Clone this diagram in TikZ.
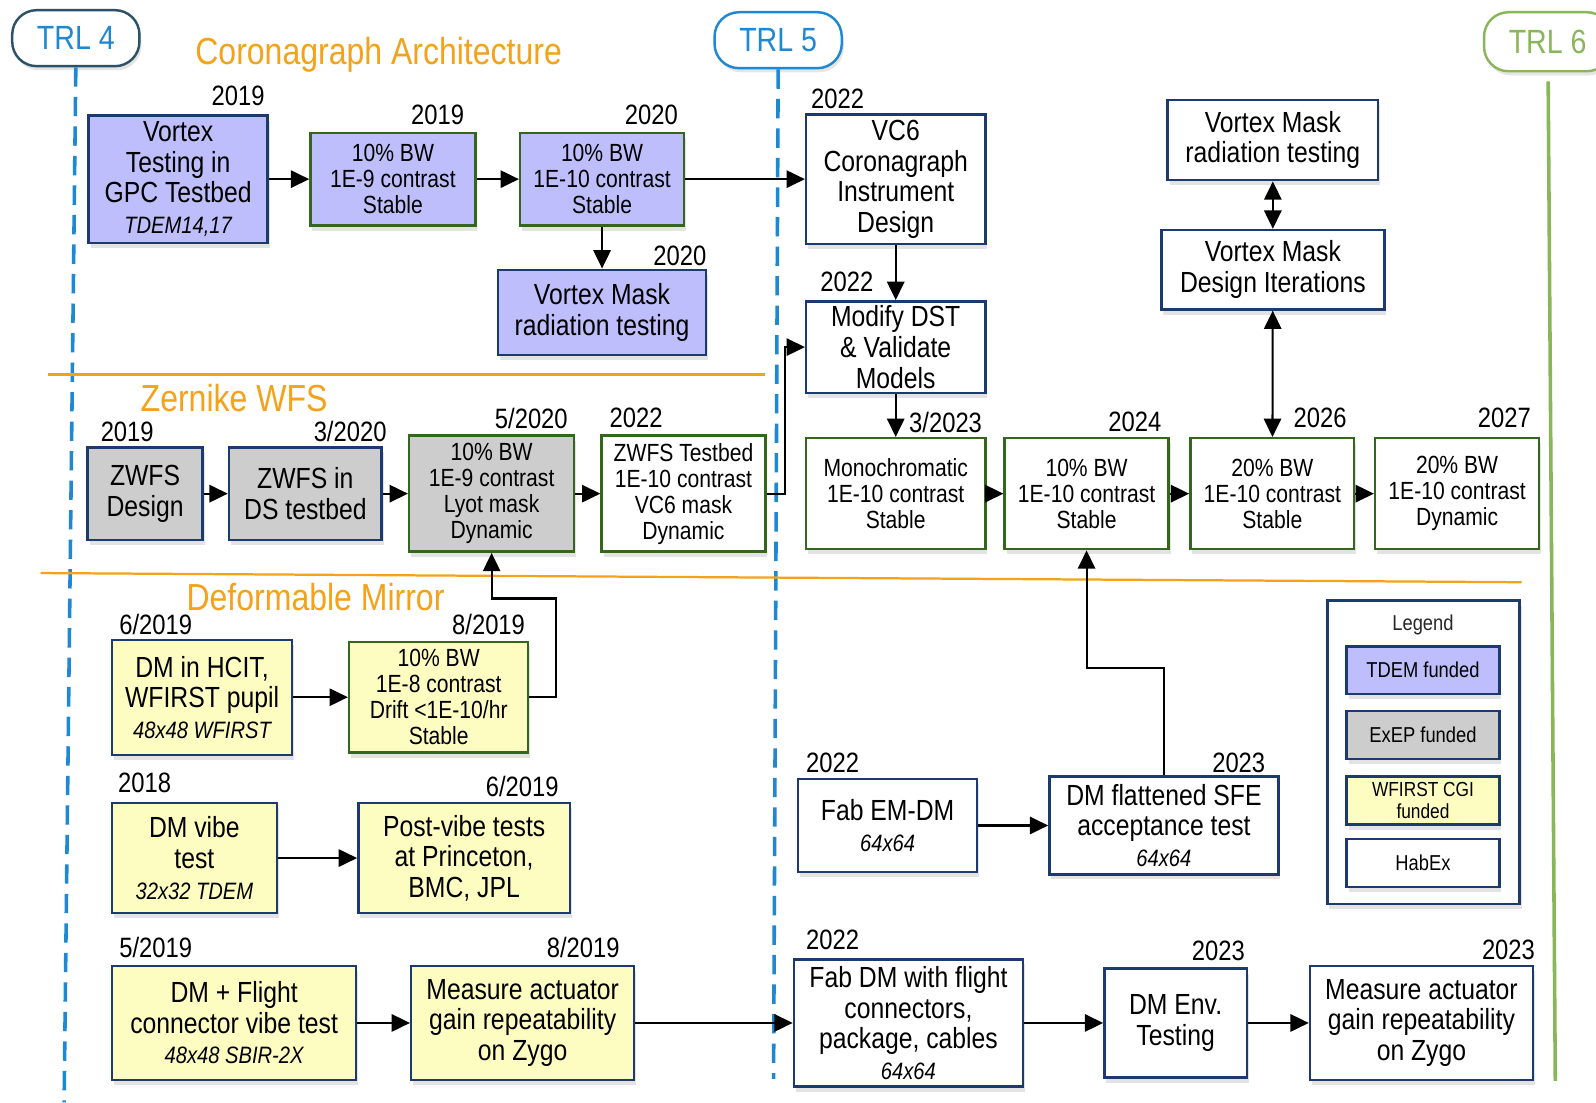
\documentclass[tikz,border=0pt]{standalone}
\usepackage{fontspec}
\setmainfont{Liberation Sans}[FakeStretch=0.85]
\usepackage{tikz}
\usetikzlibrary{arrows.meta,shadows}

\definecolor{lav}{RGB}{190,190,252}
\definecolor{greyfill}{RGB}{205,205,205}
\definecolor{yel}{RGB}{253,253,194}
\definecolor{navy}{RGB}{28,58,112}
\definecolor{dkgreen}{RGB}{52,102,28}
\definecolor{orng}{RGB}{245,162,27}
\definecolor{trlblue}{RGB}{30,136,210}
\definecolor{trlgreen}{RGB}{138,182,90}
\definecolor{trlgrey}{RGB}{45,82,104}

\newcommand{\bigfont}{\fontsize{28.6}{30}\selectfont}
\newcommand{\smlfont}{\fontsize{24.4}{25.5}\selectfont}
\newcommand{\yrfont}{\fontsize{27.5}{28}\selectfont}
\newcommand{\noteit}{\fontsize{23.3}{28}\selectfont\itshape}
\newcommand{\secfont}{\fontsize{37}{38}\selectfont}
\newcommand{\legfont}{\fontsize{21.2}{23}\selectfont}

\tikzset{
  box/.style={draw=navy, line width=2.4pt, align=center, inner sep=2pt, fill=white,
    drop shadow={shadow xshift=2pt, shadow yshift=-5pt, opacity=0.22}},
  gbox/.style={box, draw=dkgreen},
  yr/.style={font=\yrfont},
  sect/.style={font=\secfont, text=orng},
  trl/.style={draw, fill=white, line width=2.4pt, rounded corners=24pt, font=\fontsize{33}{34}\selectfont,
    minimum width=125, minimum height=55,
    drop shadow={shadow xshift=2pt, shadow yshift=-4pt, opacity=0.2}},
  arr/.style={line width=2pt, -{Triangle[length=18pt,width=17pt]}},
  darr/.style={line width=2pt, {Triangle[length=18pt,width=17pt]}-{Triangle[length=18pt,width=17pt]}},
  legbox/.style={box, minimum width=150, minimum height=47, font=\legfont}
}

\begin{document}
\begin{tikzpicture}[x=1pt, y=-1pt]

\useasboundingbox (0,0) rectangle (1568,1083);
\fill[white] (0,0) rectangle (1568,1083);

% TRL markers
\node[trl, draw=trlgrey, text=trlblue] (trlfour) at (74.5,37.5) {TRL 4};
\node[trl, draw=trlblue, text=trlblue] (trlfive) at (764.5,39.5) {TRL 5};
\node[trl, draw=trlgreen, text=trlgreen, minimum height=58] (trlsix) at (1520.5,41) {TRL 6};

\coordinate (trlfourend) at (63,1083);
\coordinate (trlfiveend) at (760,1060);
\coordinate (trlsixtop) at (1521,80);
\coordinate (trlsixend) at (1528,1062);

\draw[trlblue, line width=3.5pt, dash pattern=on 19pt off 10pt] (trlfour.south) -- (trlfourend);
\draw[trlblue, line width=3.5pt, dash pattern=on 19pt off 10pt] (trlfive.south) -- (trlfiveend);
\draw[trlgreen, line width=3.5pt] (trlsixtop) -- (trlsixend);

% section rules
\draw[orng, line width=2.2pt] (47,368) -- (752,368);
\draw[orng, line width=2.2pt] (40,563) -- (1495,572);

\node[sect] at (372,54) {Coronagraph Architecture};
\node[sect] at (230,391) {Zernike WFS};
\node[sect] at (310,587) {Deformable Mirror};

% coronagraph row
\node[box, fill=lav, minimum width=176, minimum height=125, font=\bigfont] (vtgpc) at (175,176)
  {Vortex\\Testing in\\GPC Testbed\\{\noteit TDEM14,17}};
\node[gbox, fill=lav, minimum width=162, minimum height=91, font=\smlfont] (bwa) at (386,176)
  {10\% BW\\1E-9 contrast\\Stable};
\node[gbox, fill=lav, minimum width=161, minimum height=91, font=\smlfont] (bwb) at (591.5,176)
  {10\% BW\\1E-10 contrast\\Stable};
\node[box, fill=lav, minimum width=204, minimum height=84, font=\bigfont] (vmrta) at (591.5,307)
  {Vortex Mask\\radiation testing};
\node[box, minimum width=176, minimum height=127, font=\bigfont] (vcsix) at (880,176)
  {VC6\\Coronagraph\\Instrument\\Design};
\node[box, minimum width=176, minimum height=90, font=\bigfont] (dst) at (880,341)
  {Modify DST\\\& Validate\\Models};
\node[box, minimum width=207, minimum height=79, font=\bigfont] (vmrtb) at (1250.5,137.5)
  {Vortex Mask\\radiation testing};
\node[box, minimum width=219, minimum height=78, font=\bigfont] (vmdi) at (1250.5,265)
  {Vortex Mask\\Design Iterations};

\node[gbox, minimum width=176, minimum height=109, font=\smlfont] (mono) at (880,485)
  {Monochromatic\\1E-10 contrast\\Stable};
\node[gbox, minimum width=161, minimum height=109, font=\smlfont] (bwc) at (1067.5,485)
  {10\% BW\\1E-10 contrast\\Stable};
\node[gbox, minimum width=161, minimum height=109, font=\smlfont] (bwd) at (1250,485)
  {20\% BW\\1E-10 contrast\\Stable};
\node[gbox, minimum width=161, minimum height=109, font=\smlfont] (bwe) at (1431.5,485)
  {20\% BW\\1E-10 contrast\\Dynamic};

% zernike row
\node[box, fill=greyfill, minimum width=113, minimum height=91, font=\bigfont] (zd) at (142.5,485)
  {ZWFS\\Design};
\node[box, fill=greyfill, minimum width=150, minimum height=91, font=\bigfont] (zds) at (300,485)
  {ZWFS in\\DS testbed};
\node[gbox, fill=greyfill, minimum width=162, minimum height=114, font=\smlfont] (zl) at (483,485)
  {10\% BW\\1E-9 contrast\\Lyot mask\\Dynamic};
\node[gbox, minimum width=161, minimum height=114, font=\smlfont] (zt) at (671.5,485)
  {ZWFS Testbed\\1E-10 contrast\\VC6 mask\\Dynamic};

% deformable mirror rows
\node[box, fill=yel, minimum width=177, minimum height=113, font=\bigfont] (hcit) at (198.5,685)
  {DM in HCIT,\\WFIRST pupil\\{\noteit 48x48 WFIRST}};
\node[gbox, fill=yel, minimum width=176, minimum height=109, font=\smlfont] (dmd) at (431,685)
  {10\% BW\\1E-8 contrast\\Drift <1E-10/hr\\Stable};
\node[box, fill=yel, minimum width=162, minimum height=108, font=\bigfont] (vibe) at (191,843)
  {DM vibe\\test\\{\noteit 32x32 TDEM}};
\node[box, fill=yel, minimum width=208, minimum height=108, font=\bigfont] (post) at (456,843)
  {Post-vibe tests\\at Princeton,\\BMC, JPL};
\node[box, fill=yel, minimum width=240, minimum height=112, font=\bigfont] (flight) at (230,1005)
  {DM + Flight\\connector vibe test\\{\noteit 48x48 SBIR-2X}};
\node[box, fill=yel, minimum width=219, minimum height=112, font=\bigfont] (gaina) at (513.5,1005)
  {Measure actuator\\gain repeatability\\on Zygo};
\node[box, minimum width=176, minimum height=91, font=\bigfont] (emdm) at (872,811)
  {Fab EM-DM\\{\noteit 64x64}};
\node[box, minimum width=225, minimum height=96, font=\bigfont] (sfe) at (1143.5,811)
  {DM flattened SFE\\acceptance test\\{\noteit 64x64}};
\node[box, minimum width=225, minimum height=125, font=\bigfont] (fabdm) at (892.5,1005)
  {Fab DM with flight\\connectors,\\package, cables\\{\noteit 64x64}};
\node[box, minimum width=140, minimum height=107, font=\bigfont] (env) at (1155,1005)
  {DM Env.\\Testing};
\node[box, minimum width=219, minimum height=112, font=\bigfont] (gainb) at (1396.5,1005)
  {Measure actuator\\gain repeatability\\on Zygo};

% legend
\node[box, minimum width=189, minimum height=298] (legend) at (1398.5,739) {};
\node[font=\legfont, text=black!85] (legtitle) at (1398,614) {Legend};
\node[legbox, fill=lav] (legtdem) at (1398,658.5) {TDEM funded};
\node[legbox, fill=greyfill] (legexep) at (1398,722) {ExEP funded};
\node[legbox, fill=yel, font=\fontsize{20}{22}\selectfont] (legcgi) at (1398,786.5) {WFIRST CGI\\funded};
\node[legbox] (leghabex) at (1398,848) {HabEx};

% dates
\node[yr] at (234,94) {2019};
\node[yr] at (430,113) {2019};
\node[yr] at (640,113) {2020};
\node[yr] at (668,251) {2020};
\node[yr] at (823,97) {2022};
\node[yr] at (832,277) {2022};
\node[yr] at (929,415) {3/2023};
\node[yr] at (1115,414) {2024};
\node[yr] at (1297,411) {2026};
\node[yr] at (1478,411) {2027};
\node[yr] at (125,424) {2019};
\node[yr] at (344,424) {3/2020};
\node[yr] at (522,411) {5/2020};
\node[yr] at (625,411) {2022};
\node[yr] at (153,614) {6/2019};
\node[yr] at (480,614) {8/2019};
\node[yr] at (142,769) {2018};
\node[yr] at (513,773) {6/2019};
\node[yr] at (153,931) {5/2019};
\node[yr] at (573,931) {8/2019};
\node[yr] at (818,749) {2022};
\node[yr] at (1217,749) {2023};
\node[yr] at (818,923) {2022};
\node[yr] at (1197,934) {2023};
\node[yr] at (1482,933) {2023};

% connectors
\coordinate (ztturn) at (771,485);
\coordinate (dmturn) at (546,588);
\coordinate (sfeturn) at (1143.5,656);

\draw[arr] (vtgpc) -- (bwa);
\draw[arr] (bwa) -- (bwb);
\draw[arr] (bwb) -- (vcsix);
\draw[arr] (bwb) -- (vmrta);
\draw[arr] (vcsix) -- (dst);
\draw[arr] (dst) -- (mono);
\draw[arr] (mono) -- (bwc);
\draw[arr] (bwc) -- (bwd);
\draw[arr] (bwd) -- (bwe);
\draw[darr] (vmrtb) -- (vmdi);
\draw[darr] (vmdi) -- (bwd);

\draw[arr] (zd) -- (zds);
\draw[arr] (zds) -- (zl);
\draw[arr] (zl) -- (zt);
\draw[arr] (zt.east) -- (ztturn) |- (dst.west);

\draw[arr] (hcit) -- (dmd);
\draw[arr] (dmd.east) -| (dmturn) -| (zl.south);
\draw[arr] (vibe) -- (post);
\draw[arr] (flight) -- (gaina);
\draw[arr] (gaina) -- (fabdm);
\draw[arr] (emdm) -- (sfe);
\draw[arr] (sfe.north) -- (sfeturn) -| (bwc.south);
\draw[arr] (fabdm) -- (env);
\draw[arr] (env) -- (gainb);

\end{tikzpicture}
\end{document}
